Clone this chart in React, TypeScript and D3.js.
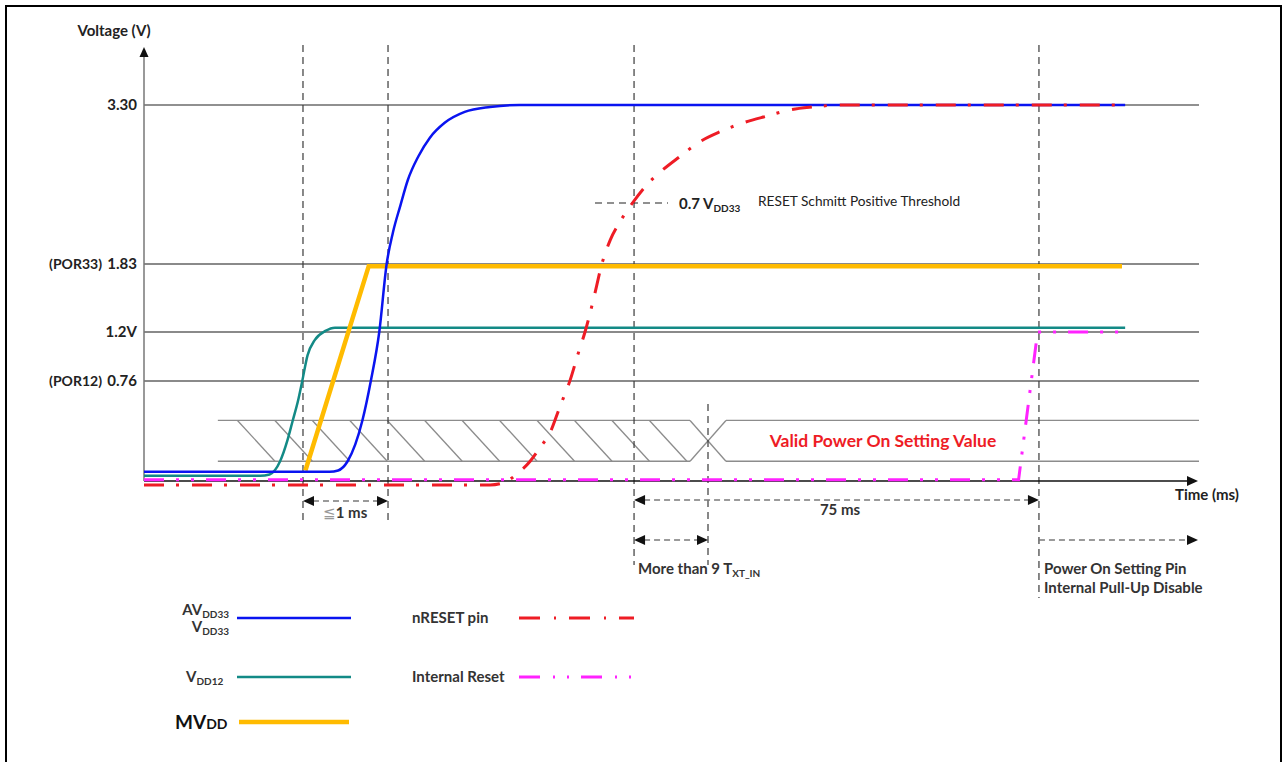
import React from "react";
import * as d3 from "d3";

// ---------- data ----------
const yTickValues = [3.3, 1.83, 1.2, 0.76];
const yTickLabels = ["3.30", "1.83", "1.2V", "0.76"];
const yTickTags = ["", "(POR33)", "", "(POR12)"];
const thresholdV = 2.31;

// time markers (arbitrary time units 0..100 along the axis)
const timeMarks = [15.07, 23.13, 46.45, 53.46, 84.83];

// AVDD33 / VDD33
const avddT = [0, 17.6, 18.4, 19.3, 20.7, 21.5, 22.3, 23.0, 23.6, 24.3, 25.0, 26.0, 27.1, 28.5, 30.4, 32.8, 35.6, 93.0];
const avddV = [0.07, 0.07, 0.08, 0.15, 0.46, 0.76, 1.2, 1.83, 2.08, 2.29, 2.54, 2.78, 2.97, 3.12, 3.23, 3.28, 3.3, 3.3];

// VDD12
const vdd12T = [0, 11.0, 11.9, 12.9, 13.6, 14.1, 14.6, 15.0, 15.5, 16.2, 17.2, 18.1, 93.0];
const vdd12V = [0.04, 0.04, 0.05, 0.15, 0.31, 0.46, 0.61, 0.76, 0.99, 1.13, 1.21, 1.24, 1.24];

// MVDD
const mvddT = [15.3, 21.3, 92.7];
const mvddV = [0.08, 1.81, 1.81];

// nRESET pin
const nresetT = [0, 32.8, 34.0, 35.6, 36.6, 37.5, 38.5, 39.4, 40.4, 41.1, 41.8, 42.6, 43.4, 44.2, 45.1, 46.3, 47.8, 48.9, 50.8, 52.7, 54.6, 56.8, 59.1, 61.2, 63.4, 66.0, 93.0];
const nresetV = [-0.03, -0.03, -0.015, 0.07, 0.15, 0.25, 0.37, 0.56, 0.77, 0.99, 1.2, 1.5, 1.83, 2.02, 2.16, 2.31, 2.51, 2.62, 2.78, 2.93, 3.03, 3.12, 3.19, 3.25, 3.28, 3.3, 3.3];

// Internal Reset
const intResetT = [0, 82.9, 84.7, 92.9];
const intResetV = [0.01, 0.01, 1.2, 1.2];

// Valid power-on setting band
const bandStartT = 7.0;
const bandLowV = 0.15;
const bandHighV = 0.46;

const FONT = "Lato, 'Open Sans', sans-serif";

function Arrow({ x, y, dir, size = 10, color = "#111" }: { x: number; y: number; dir: "up" | "left" | "right"; size?: number; color?: string }) {
  const h = size * 0.45;
  let pts = "";
  if (dir === "up") pts = `${x},${y} ${x - h},${y + size} ${x + h},${y + size}`;
  if (dir === "right") pts = `${x},${y} ${x - size},${y - h} ${x - size},${y + h}`;
  if (dir === "left") pts = `${x},${y} ${x + size},${y - h} ${x + size},${y + h}`;
  return <polygon points={pts} fill={color} />;
}

export default function App() {
  const x = d3.scaleLinear().domain([0, 100]).range([144, 1199]);
  const y = d3.scaleLinear().domain([0, 0.76, 1.2, 1.83, 2.31, 3.3]).range([481, 381, 332, 264, 203, 105]);

  const path = (ts: number[], vs: number[], curve: d3.CurveFactory) =>
    d3.line<number>().x((i) => x(ts[i])).y((i) => y(vs[i])).curve(curve)(d3.range(ts.length)) || "";

  const x0 = x(0);
  const xEnd = x(100);
  const y0 = y(0);

  const hTop = y(bandHighV);
  const hBot = y(bandLowV);
  const cross = timeMarks[3];
  const halfX = 1.7;
  const slant = 3.55;
  const diagStarts = d3.range(bandStartT + 1.86, cross - halfX - slant + 0.1, slant);

  const markBottoms = [520, 520, 565, 565, 598];
  const markTops = [45, 45, 45, 404, 45];

  const gridStyle = (i: number) =>
    yTickTags[i] !== "" || yTickLabels[i].endsWith("V")
      ? { stroke: "#8a8a8a", width: 2 }
      : { stroke: "#222", width: i === 0 ? 1.2 : 1.5 };

  const legendX1 = 237;
  const legendX2 = 351;
  const legend2X1 = 519;
  const legend2X2 = 634;

  const annGray = "#7a7a7a";
  const LBL = 15;
  const SUB = 10;

  return (
    <svg width={1288} height={762} style={{ position: "absolute", left: 0, top: 0, background: "#fff" }} fontFamily={FONT}>
      <rect x={0} y={0} width={1288} height={762} fill="#fff" />
      <rect x={6} y={6} width={1275} height={780} fill="none" stroke="#000" strokeWidth={2} />

      {/* grid lines */}
      {yTickValues.map((v, i) => {
        const s = gridStyle(i);
        return <line key={"g" + i} x1={x0} x2={xEnd} y1={y(v)} y2={y(v)} stroke={s.stroke} strokeWidth={s.width} />;
      })}

      {/* y tick labels */}
      {yTickValues.map((v, i) => (
        <g key={"t" + i}>
          <text x={137} y={y(v)} dy="0.35em" textAnchor="end" fontSize={LBL} fontWeight={700} fill="#222">
            {yTickLabels[i]}
          </text>
          {yTickTags[i] && (
            <text x={102} y={y(v)} dy="0.35em" textAnchor="end" fontSize={14} fontWeight={700} fill="#222">
              {yTickTags[i]}
            </text>
          )}
        </g>
      ))}

      {/* hatch band */}
      <g stroke="#8c8c8c" strokeWidth={1.3} fill="none">
        <line x1={x(bandStartT)} x2={x(cross - halfX)} y1={hTop} y2={hTop} />
        <line x1={x(bandStartT)} x2={x(cross - halfX)} y1={hBot} y2={hBot} />
        <line x1={x(cross + halfX)} x2={xEnd} y1={hTop} y2={hTop} />
        <line x1={x(cross + halfX)} x2={xEnd} y1={hBot} y2={hBot} />
        <line x1={x(cross - halfX)} x2={x(cross + halfX)} y1={hTop} y2={hBot} />
        <line x1={x(cross - halfX)} x2={x(cross + halfX)} y1={hBot} y2={hTop} />
        {diagStarts.map((t, i) => (
          <line key={"d" + i} x1={x(t)} y1={hTop} x2={x(t + slant)} y2={hBot} />
        ))}
      </g>
      <text x={883} y={(hTop + hBot) / 2} dy="0.35em" textAnchor="middle" fontSize={17.5} fontWeight={700} fill="#ee1c25">
        Valid Power On Setting Value
      </text>

      {/* vertical dashed markers */}
      {timeMarks.map((t, i) => (
        <line key={"m" + i} x1={x(t)} x2={x(t)} y1={markTops[i]} y2={markBottoms[i]} stroke="#3a3a3a" strokeWidth={1.2} strokeDasharray="7 5" />
      ))}

      {/* axes */}
      <line x1={x0} x2={x0} y1={y0} y2={56} stroke="#777" strokeWidth={1.5} />
      <Arrow x={x0} y={47} dir="up" size={10} />
      <text x={114} y={31} dy="0.35em" textAnchor="middle" fontSize={LBL} fontWeight={700} fill="#222">
        Voltage (V)
      </text>
      <line x1={x0} x2={1188} y1={y0} y2={y0} stroke="#111" strokeWidth={1.5} />
      <Arrow x={1198} y={y0} dir="right" size={11} />
      <text x={1207} y={495} dy="0.35em" textAnchor="middle" fontSize={LBL} fontWeight={700} fill="#222">
        Time (ms)
      </text>

      {/* threshold */}
      <line x1={595} x2={668} y1={y(thresholdV)} y2={y(thresholdV)} stroke="#222" strokeWidth={1.2} strokeDasharray="7 5" />
      <text x={679} y={y(thresholdV) + 1} dy="0.35em" fontSize={LBL} fontWeight={700} fill="#222">
        0.7 V<tspan fontSize={SUB} dy="3">DD33</tspan>
      </text>
      <text x={758} y={201} dy="0.35em" fontSize={13.7} fill="#222">
        RESET Schmitt Positive Threshold
      </text>

      {/* curves */}
      <path d={path(vdd12T, vdd12V, d3.curveMonotoneX)} fill="none" stroke="#138a86" strokeWidth={2.5} />
      <path d={path(mvddT, mvddV, d3.curveLinear)} fill="none" stroke="#ffbb00" strokeWidth={4.5} />
      <path d={path(avddT, avddV, d3.curveMonotoneX)} fill="none" stroke="#0a14f0" strokeWidth={2.5} />
      <path d={path(nresetT, nresetV, d3.curveMonotoneX)} fill="none" stroke="#ee1c25" strokeWidth={3} strokeDasharray="20 12 3 13" />
      <path d={path(intResetT, intResetV, d3.curveLinear)} fill="none" stroke="#ff22ff" strokeWidth={3} strokeDasharray="20 12 3 12 3 12" />

      {/* annotations */}
      <g stroke={annGray} strokeWidth={1.3} strokeDasharray="6 4">
        <line x1={x(timeMarks[0]) + 10} x2={x(timeMarks[1]) - 10} y1={501} y2={501} />
        <line x1={x(timeMarks[2]) + 10} x2={x(timeMarks[4]) - 10} y1={500} y2={500} />
        <line x1={x(timeMarks[2]) + 10} x2={x(timeMarks[3]) - 10} y1={540} y2={540} />
        <line x1={x(timeMarks[4])} x2={1188} y1={540} y2={540} />
      </g>
      <Arrow x={x(timeMarks[0])} y={501} dir="left" size={11} />
      <Arrow x={x(timeMarks[1])} y={501} dir="right" size={11} />
      <Arrow x={x(timeMarks[2])} y={500} dir="left" size={11} />
      <Arrow x={x(timeMarks[4])} y={500} dir="right" size={11} />
      <Arrow x={x(timeMarks[2])} y={540} dir="left" size={11} />
      <Arrow x={x(timeMarks[3])} y={540} dir="right" size={11} />
      <Arrow x={1198} y={540} dir="right" size={11} />

      <text x={345} y={513} dy="0.35em" textAnchor="middle" fontSize={LBL} fontWeight={700} fill="#333">
        <tspan fill="#999" fontWeight={400}>≦</tspan>1 ms
      </text>
      <text x={840} y={510} dy="0.35em" textAnchor="middle" fontSize={LBL} fontWeight={700} fill="#333">
        75 ms
      </text>
      <text x={638} y={569} dy="0.35em" fontSize={LBL} fontWeight={700} fill="#333">
        More than 9 T<tspan fontSize={SUB} dy="3">XT_IN</tspan>
      </text>
      <text x={1044} y={569} dy="0.35em" fontSize={LBL} fontWeight={700} fill="#333">
        Power On Setting Pin
      </text>
      <text x={1044} y={588} dy="0.35em" fontSize={LBL} fontWeight={700} fill="#333">
        Internal Pull-Up Disable
      </text>

      {/* legend */}
      <text x={229} y={610} dy="0.35em" textAnchor="end" fontSize={LBL} fontWeight={700} fill="#333">
        AV<tspan fontSize={SUB} dy="3">DD33</tspan>
      </text>
      <text x={229} y={627} dy="0.35em" textAnchor="end" fontSize={LBL} fontWeight={700} fill="#333">
        V<tspan fontSize={SUB} dy="3">DD33</tspan>
      </text>
      <line x1={legendX1} x2={legendX2} y1={618} y2={618} stroke="#0a14f0" strokeWidth={2.5} />

      <text x={186} y={677} dy="0.35em" fontSize={LBL} fontWeight={700} fill="#333">
        V<tspan fontSize={SUB} dy="3">DD12</tspan>
      </text>
      <line x1={legendX1} x2={legendX2} y1={677} y2={677} stroke="#138a86" strokeWidth={2.5} />

      <text x={175} y={722} dy="0.35em" fontSize={19} fontWeight={700} fill="#111">
        MV<tspan fontSize={14}>DD</tspan>
      </text>
      <line x1={239} x2={349} y1={722} y2={722} stroke="#ffbb00" strokeWidth={4.5} />

      <text x={412} y={618} dy="0.35em" fontSize={LBL} fontWeight={700} fill="#333">
        nRESET pin
      </text>
      <line x1={legend2X1} x2={legend2X2} y1={618} y2={618} stroke="#ee1c25" strokeWidth={3} strokeDasharray="21 14 2 13" />

      <text x={412} y={677} dy="0.35em" fontSize={LBL} fontWeight={700} fill="#333">
        Internal Reset
      </text>
      <line x1={legend2X1} x2={legend2X2} y1={677} y2={677} stroke="#ff22ff" strokeWidth={3} strokeDasharray="21 13 2 12 2 12" />
    </svg>
  );
}
